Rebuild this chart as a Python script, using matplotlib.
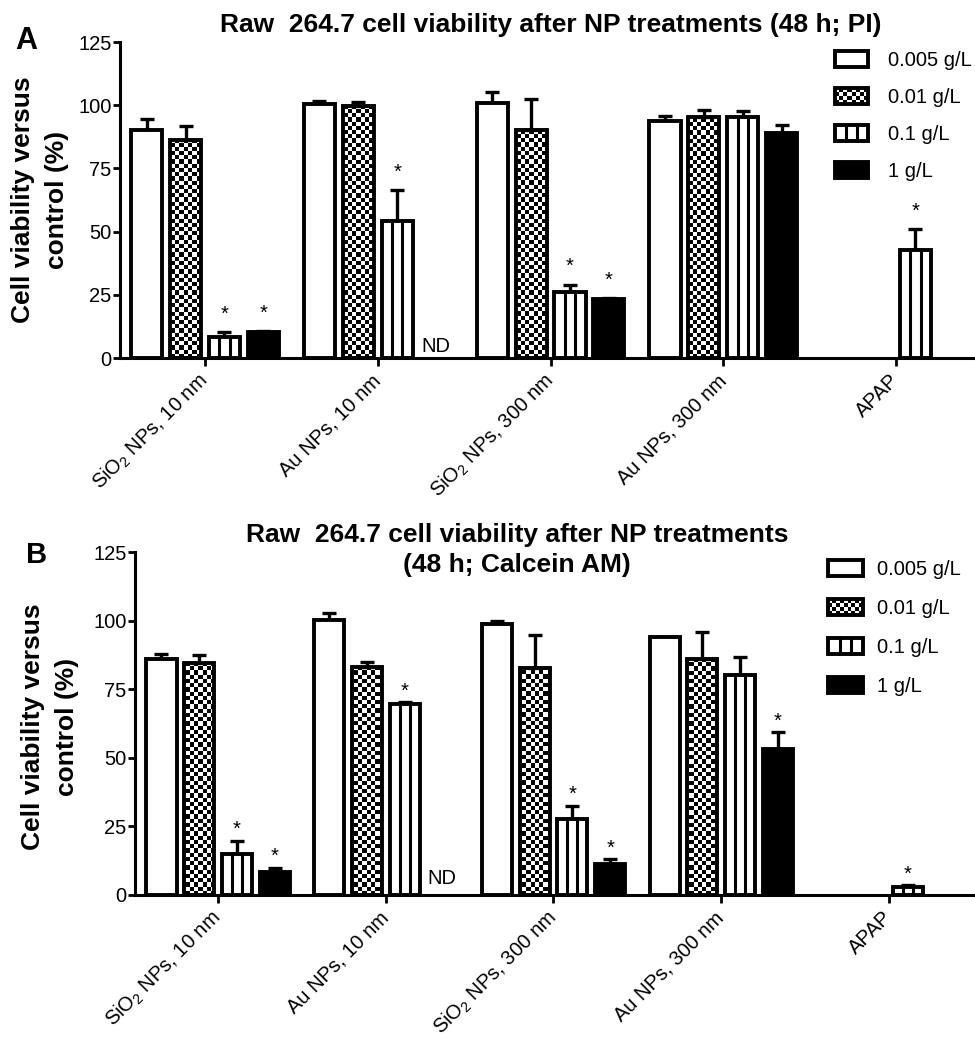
import numpy as np
import matplotlib
matplotlib.use("Agg")
import matplotlib.pyplot as plt
from matplotlib.patches import Patch, Rectangle
from matplotlib.lines import Line2D

plt.rcParams['font.family'] = ['Liberation Sans', 'DejaVu Sans']
plt.rcParams['mathtext.fontset'] = 'custom'
plt.rcParams['mathtext.rm'] = 'Liberation Sans'
plt.rcParams['mathtext.it'] = 'Liberation Sans:italic'

# data
categories = ["SiO$_2$ NPs, 10 nm", "Au NPs, 10 nm", "SiO$_2$ NPs, 300 nm",
              "Au NPs, 300 nm", "APAP"]
concentrations = ["0.005 g/L", "0.01 g/L", "0.1 g/L", "1 g/L"]
styles = ["open", "checker", "stripes", "solid"]
nan = np.nan

# PI assay
pi_means = [
    [90.3, 100.6, 100.9, 93.6, nan],
    [86.4, 99.5, 90.3, 95.3, nan],
    [8.2, 54.1, 26.1, 95.3, 42.9],
    [10.3, nan, 23.5, 89.0, nan],
]
pi_errs = [
    [4.4, 1.2, 4.2, 2.0, nan],
    [5.2, 1.8, 12.2, 2.9, nan],
    [2.0, 12.2, 2.9, 2.3, 8.1],
    [0.2, nan, 0.2, 3.3, nan],
]
pi_sig = [
    [0, 0, 0, 0, 0],
    [0, 0, 0, 0, 0],
    [1, 1, 1, 0, 1],
    [1, 0, 1, 0, 0],
]

# Calcein AM assay
ca_means = [
    [86.0, 100.3, 98.7, 93.9, nan],
    [84.5, 83.0, 82.9, 86.0, nan],
    [14.8, 69.6, 27.7, 80.0, 3.0],
    [8.4, nan, 11.3, 53.3, nan],
]
ca_errs = [
    [1.9, 2.4, 1.3, 0.3, nan],
    [2.8, 1.9, 11.7, 9.7, nan],
    [5.0, 0.7, 4.9, 6.9, 0.6],
    [1.6, nan, 1.8, 6.0, nan],
]
ca_sig = [
    [0, 0, 0, 0, 0],
    [0, 0, 0, 0, 0],
    [1, 1, 1, 0, 1],
    [1, 0, 1, 1, 0],
]

nd_category = 1   # Au NPs 10 nm, 1 g/L not determined
nd_series = 3

EDGE = 2.8
PITCH = 0.225
WIDTH = 0.18
FS = 14.5


class KeyHandler:
    def __init__(self, style):
        self.style = style

    def legend_artist(self, legend, orig_handle, fontsize, handlebox):
        x0, y0 = -handlebox.xdescent, -handlebox.ydescent
        w, h = handlebox.width, handlebox.height
        face = 'black' if self.style == 'solid' else 'white'
        box = Rectangle((x0, y0), w, h, facecolor=face, edgecolor='black',
                        lw=EDGE)
        handlebox.add_artist(box)
        if self.style == 'checker':
            s = 2.9
            nx, ny = int(round(w / s)), int(round(h / s))
            sx, sy = w / nx, h / ny
            for i in range(nx):
                for j in range(ny):
                    if (i + j) % 2 == 0:
                        handlebox.add_artist(Rectangle((x0 + i * sx, y0 + j * sy),
                                                       sx, sy, facecolor='black',
                                                       lw=0))
        elif self.style == 'stripes':
            for f in (1 / 3, 2 / 3):
                handlebox.add_artist(Line2D([x0 + f * w] * 2, [y0, y0 + h],
                                            color='black', lw=2.2))
        return box


def draw_panel(ax, means, errs, sig, xlim, star_off, nd_y):
    x = np.arange(len(categories))
    ax.set_xlim(*xlim)
    ax.set_ylim(0, 125)
    # checker board image used to fill the 0.01 g/L bars
    bb = ax.get_position()
    fig = ax.figure
    wpx = bb.width * fig.get_figwidth() * fig.dpi
    hpx = bb.height * fig.get_figheight() * fig.dpi
    nx, ny = int(wpx / 4.2), int(hpx / 4.2)
    board = (np.indices((ny, nx)).sum(axis=0) % 2).astype(float)

    for k, style in enumerate(styles):
        pos = x + (k - 1.5) * PITCH
        vals = np.array(means[k], dtype=float)
        err = np.array(errs[k], dtype=float)
        face = {'open': 'white', 'checker': 'none', 'stripes': 'white',
                'solid': 'black'}[style]
        bars = ax.bar(pos, np.nan_to_num(vals), WIDTH, facecolor=face,
                      edgecolor='black', lw=EDGE, zorder=3)
        for r, v in zip(bars, vals):
            if np.isnan(v):
                r.set_visible(False)
        if style == 'checker':
            for r, v in zip(bars, vals):
                if np.isnan(v):
                    continue
                im = ax.imshow(board, cmap='gray', vmin=0, vmax=1,
                               extent=(xlim[0], xlim[1], 0, 125),
                               aspect='auto', interpolation='nearest', zorder=2)
                im.set_clip_path(r)
        if style == 'stripes':
            for r, v in zip(bars, vals):
                if np.isnan(v):
                    continue
                xl, w = r.get_x(), r.get_width()
                ax.vlines([xl + w / 3, xl + 2 * w / 3], 0, v, color='black',
                          lw=2.2, zorder=3)
        ok = ~np.isnan(vals)
        ax.errorbar(pos[ok], vals[ok], yerr=[np.zeros(ok.sum()), err[ok]],
                    fmt='none', ecolor='black', elinewidth=2.4, capsize=5,
                    capthick=2.4, zorder=2.5)
        for p, v, e, s in zip(pos, vals, err, sig[k]):
            if s:
                ax.annotate('*', (p, v + e), xytext=(0, star_off),
                            textcoords='offset points', ha='center',
                            va='center', fontsize=FS)
    ax.text(nd_category + (nd_series - 1.5) * PITCH, nd_y, 'ND', ha='center',
            va='center', fontsize=FS)
    ax.set_xticks(x)
    ax.set_xticklabels(categories, rotation=45, ha='right', va='center',
                       rotation_mode='anchor', fontsize=FS)
    ax.set_yticks([0, 25, 50, 75, 100, 125])
    ax.tick_params(axis='y', labelsize=FS, width=2, length=5, pad=1)
    ax.tick_params(axis='x', width=2, length=6, pad=8)
    for sp in ('top', 'right'):
        ax.spines[sp].set_visible(False)
    for sp in ('left', 'bottom'):
        ax.spines[sp].set_linewidth(2.2)
        ax.spines[sp].set_zorder(4)

    handles = [Patch(label=c) for c in concentrations]
    hmap = {h: KeyHandler(s) for h, s in zip(handles, styles)}
    return handles, hmap


W, H = 975, 1042
fig = plt.figure(figsize=(W / 100, H / 100), dpi=100)

axA = fig.add_axes([120 / W, 1 - 358 / H, 855 / W, 316 / H])
axB = fig.add_axes([135 / W, 1 - 895 / H, 840 / W, 343 / H])

hA, mA = draw_panel(axA, pi_means, pi_errs, pi_sig, (-0.492, 4.457), 13, 4.5)
hB, mB = draw_panel(axB, ca_means, ca_errs, ca_sig, (-0.495, 4.513), 8, 6.0)

legA = fig.legend(handles=hA, handler_map=mA, loc='upper left',
                  bbox_to_anchor=(835 / W, 1 - 51 / H), frameon=False,
                  fontsize=FS, handlelength=1.65, handleheight=0.85,
                  handletextpad=1.0, labelspacing=0.9, borderpad=0,
                  borderaxespad=0)
legB = fig.legend(handles=hB, handler_map=mB, loc='upper left',
                  bbox_to_anchor=(828 / W, 1 - 560 / H), frameon=False,
                  fontsize=FS, handlelength=1.75, handleheight=0.85,
                  handletextpad=0.7, labelspacing=1.0, borderpad=0,
                  borderaxespad=0)

fig.text(551 / W, 1 - 25 / H,
         "Raw  264.7 cell viability after NP treatments (48 h; PI)",
         ha='center', va='center', fontsize=19, fontweight='bold')
fig.text(517 / W, 1 - 550 / H,
         "Raw  264.7 cell viability after NP treatments\n(48 h; Calcein AM)",
         ha='center', va='center', fontsize=19, fontweight='bold',
         linespacing=1.35)

fig.text(40 / W, 1 - 200 / H, "Cell viability versus\ncontrol (%)",
         rotation=90, ha='center', va='center', fontsize=19,
         fontweight='bold', linespacing=1.5)
fig.text(50 / W, 1 - 727 / H, "Cell viability versus\ncontrol (%)",
         rotation=90, ha='center', va='center', fontsize=19,
         fontweight='bold', linespacing=1.55)

fig.text(26 / W, 1 - 41 / H, "A", ha='center', va='center', fontsize=22,
         fontweight='bold')
fig.text(37 / W, 1 - 555 / H, "B", ha='center', va='center', fontsize=21,
         fontweight='bold')

fig.savefig("out.png", dpi=100)
